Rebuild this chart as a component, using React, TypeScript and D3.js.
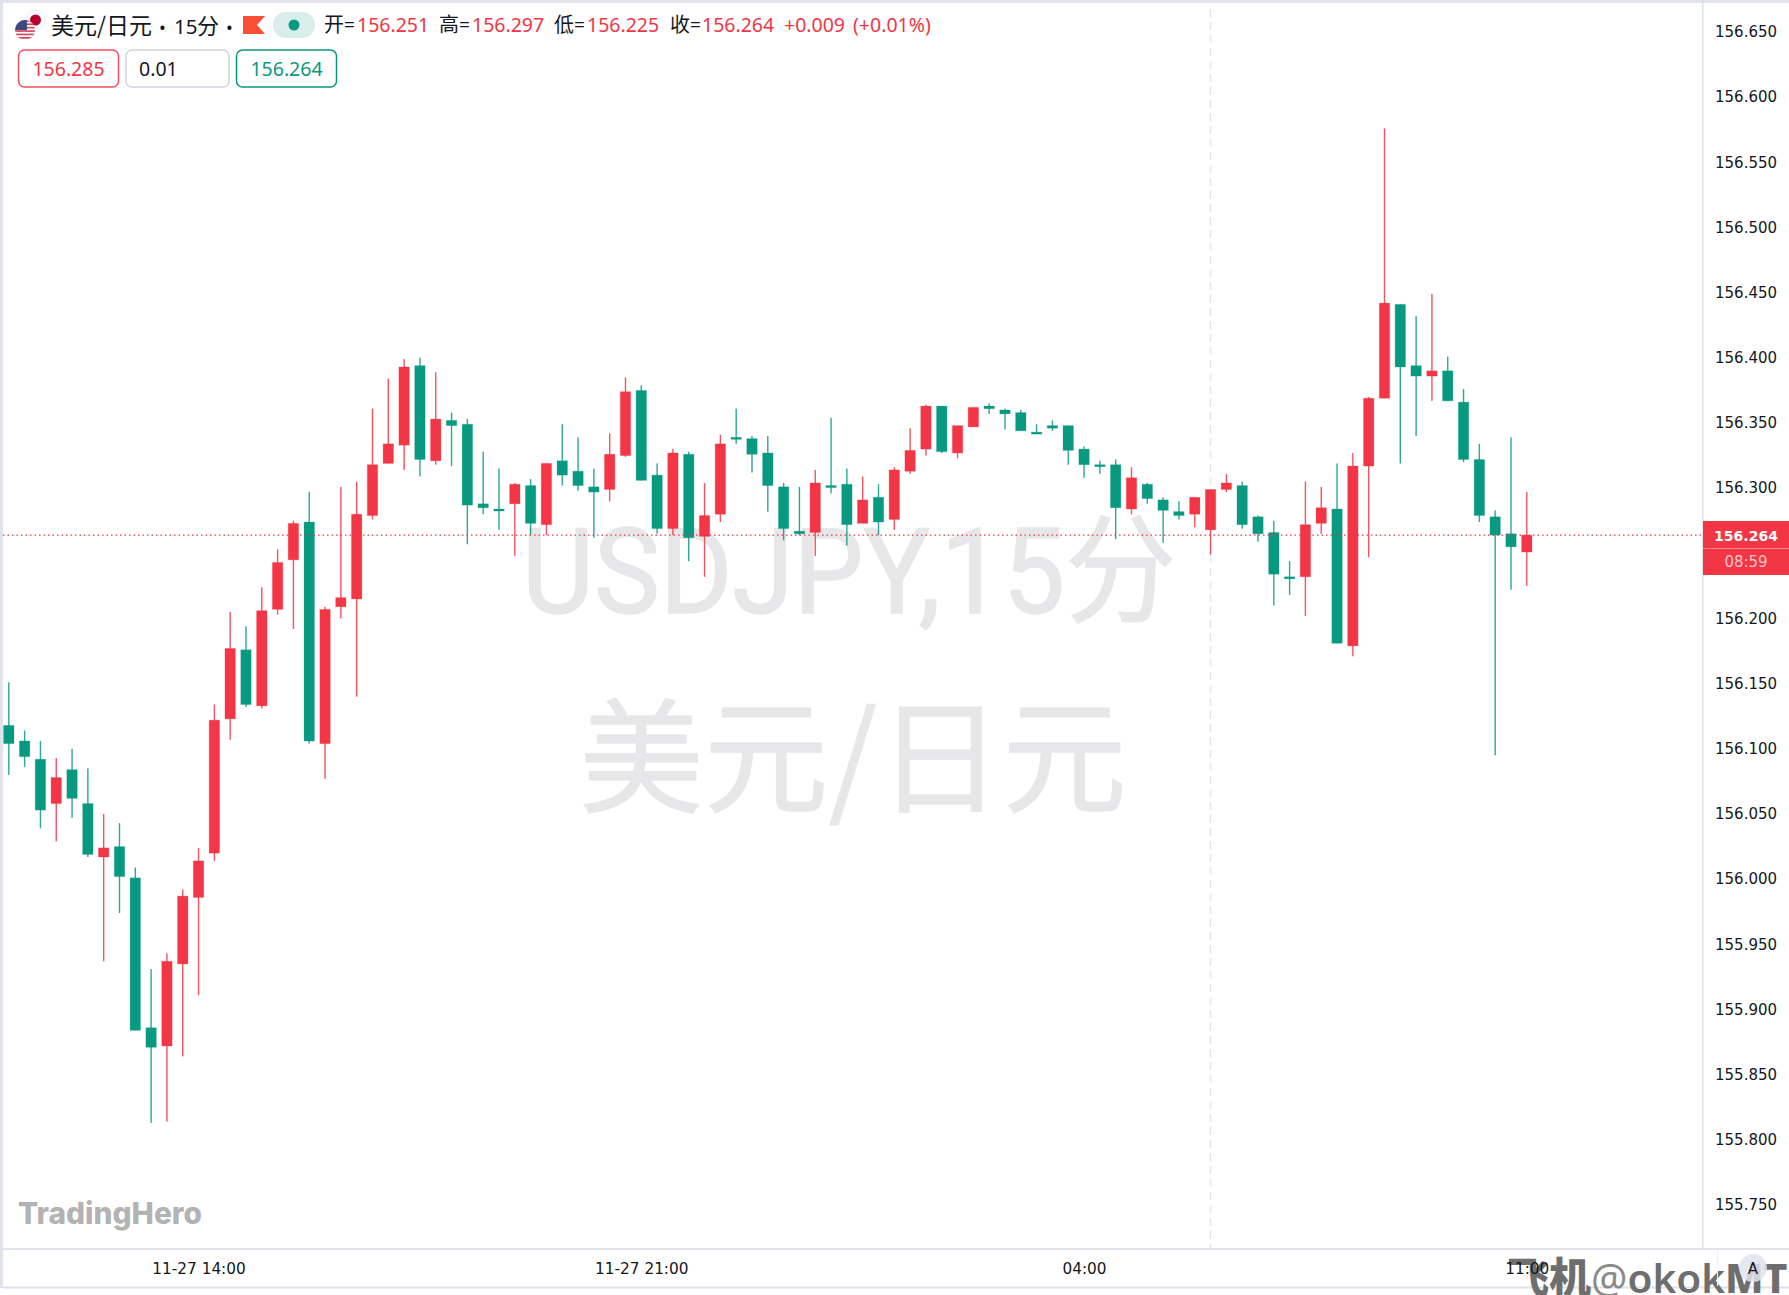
import React from "react";
import * as d3 from "d3";

const WIDTH = 1789;
const HEIGHT = 1295;

const UP = "#f23645";
const DOWN = "#089981";
const LINE = "#e0e3eb";
const AXIS_FONT = "'DejaVu Sans', sans-serif";
const TEXT_FONT = "'Noto Sans', 'Noto Sans CJK SC', sans-serif";
const CJK_FONT = "'Noto Sans CJK SC', sans-serif";

// USDJPY 15 min, 11-27 11:00 to 11-28 11:00
const opens = [
  156.118, 156.106, 156.092, 156.058, 156.084, 156.058, 156.017, 156.025, 156.001, 155.886,
  155.872, 155.935, 155.986, 156.02, 156.123, 156.176, 156.133, 156.207, 156.245, 156.274,
  156.104, 156.209, 156.215, 156.279, 156.319, 156.333, 156.394, 156.321, 156.352, 156.349,
  156.288, 156.284, 156.288, 156.302, 156.272, 156.321, 156.313, 156.301, 156.299, 156.325,
  156.375, 156.31, 156.269, 156.326, 156.263, 156.28, 156.339, 156.338, 156.327, 156.301,
  156.267, 156.266, 156.302, 156.303, 156.273, 156.293, 156.276, 156.313, 156.33, 156.363,
  156.327, 156.347, 156.363, 156.36, 156.358, 156.343, 156.348, 156.348, 156.33, 156.318,
  156.318, 156.284, 156.303, 156.291, 156.282, 156.28, 156.268, 156.299, 156.302, 156.278,
  156.266, 156.232, 156.232, 156.273, 156.284, 156.179, 156.317, 156.369, 156.441, 156.394,
  156.386, 156.39, 156.366, 156.322, 156.278, 156.265, 156.251,
];
const highs = [
  156.151, 156.114, 156.106, 156.093, 156.1, 156.085, 156.05, 156.043, 156.009, 155.931,
  155.943, 155.992, 156.024, 156.134, 156.205, 156.194, 156.224, 156.253, 156.275, 156.297,
  156.209, 156.301, 156.305, 156.361, 156.384, 156.399, 156.4, 156.389, 156.358, 156.353,
  156.328, 156.315, 156.304, 156.307, 156.319, 156.349, 156.339, 156.315, 156.342, 156.385,
  156.379, 156.319, 156.33, 156.328, 156.304, 156.341, 156.361, 156.34, 156.34, 156.304,
  156.301, 156.314, 156.354, 156.315, 156.309, 156.303, 156.316, 156.346, 156.364, 156.363,
  156.348, 156.362, 156.365, 156.361, 156.36, 156.349, 156.352, 156.348, 156.332, 156.321,
  156.322, 156.316, 156.304, 156.293, 156.29, 156.293, 156.299, 156.311, 156.305, 156.279,
  156.275, 156.244, 156.305, 156.301, 156.319, 156.327, 156.37, 156.576, 156.441, 156.432,
  156.449, 156.401, 156.376, 156.334, 156.283, 156.339, 156.297,
];
const lows = [
  156.08, 156.086, 156.039, 156.029, 156.047, 156.017, 155.937, 155.974, 155.884, 155.813,
  155.814, 155.864, 155.911, 156.014, 156.107, 156.132, 156.131, 156.203, 156.192, 156.104,
  156.077, 156.2, 156.14, 156.276, 156.319, 156.314, 156.309, 156.318, 156.317, 156.257,
  156.28, 156.268, 156.248, 156.264, 156.264, 156.302, 156.298, 156.262, 156.29, 156.324,
  156.306, 156.265, 156.264, 156.244, 156.232, 156.274, 156.334, 156.312, 156.282, 156.26,
  156.264, 156.248, 156.296, 156.256, 156.273, 156.264, 156.268, 156.311, 156.325, 156.327,
  156.323, 156.347, 156.357, 156.345, 156.344, 156.342, 156.344, 156.318, 156.308, 156.311,
  156.261, 156.28, 156.288, 156.258, 156.276, 156.27, 156.249, 156.297, 156.269, 156.259,
  156.21, 156.218, 156.202, 156.265, 156.181, 156.171, 156.247, 156.369, 156.319, 156.34,
  156.367, 156.367, 156.32, 156.274, 156.095, 156.222, 156.225,
];
const closes = [
  156.104, 156.094, 156.053, 156.078, 156.062, 156.019, 156.024, 156.002, 155.884, 155.871,
  155.937, 155.987, 156.014, 156.122, 156.177, 156.134, 156.206, 156.243, 156.273, 156.106,
  156.207, 156.216, 156.28, 156.318, 156.334, 156.393, 156.322, 156.353, 156.348, 156.287,
  156.285, 156.283, 156.303, 156.273, 156.319, 156.31, 156.302, 156.297, 156.326, 156.374,
  156.306, 156.269, 156.327, 156.262, 156.279, 156.334, 156.338, 156.326, 156.302, 156.269,
  156.265, 156.304, 156.301, 156.272, 156.291, 156.274, 156.314, 156.329, 156.363, 156.328,
  156.348, 156.362, 156.361, 156.357, 156.344, 156.342, 156.346, 156.329, 156.318, 156.317,
  156.285, 156.308, 156.292, 156.283, 156.279, 156.293, 156.299, 156.304, 156.272, 156.265,
  156.234, 156.231, 156.272, 156.285, 156.181, 156.317, 156.369, 156.442, 156.393, 156.386,
  156.39, 156.367, 156.322, 156.279, 156.264, 156.255, 156.264,
];

const priceTicks = [
  155.75, 155.8, 155.85, 155.9, 155.95, 156.0, 156.05, 156.1, 156.15, 156.2, 156.25, 156.3,
  156.35, 156.4, 156.45, 156.5, 156.55, 156.6, 156.65,
];
const timeTickIndex = [12, 40, 68, 96];
const timeTickLabels = ["11-27 14:00", "11-27 21:00", "04:00", "11:00"];
const sessionBreakIndex = 76;

const lastPrice = 156.264;
const legendItems = [
  { label: "开=", value: "156.251", labelX: 324, valueX: 357 },
  { label: "高=", value: "156.297", labelX: 439, valueX: 472 },
  { label: "低=", value: "156.225", labelX: 554, valueX: 587 },
  { label: "收=", value: "156.264", labelX: 670, valueX: 702 },
];

const App = () => {
  const svgRef = React.useRef<SVGSVGElement | null>(null);

  React.useEffect(() => {
    const svg = d3.select(svgRef.current);
    svg.selectAll("*").remove();

    const start = new Date(Date.UTC(2024, 10, 27, 11, 0));
    const timeAt = (i: number) => d3.utcMinute.offset(start, i * 15);

    const x = d3
      .scaleUtc()
      .domain([timeAt(0), timeAt(96)])
      .range([8.8, 1526.8]);
    const y = d3.scaleLinear().domain([155.75, 156.65]).range([1205, 32]);

    svg.append("rect").attr("width", WIDTH).attr("height", HEIGHT).attr("fill", "#fff");

    // outer frame
    svg.append("rect").attr("width", WIDTH).attr("height", 3).attr("fill", LINE);
    svg.append("rect").attr("width", 3).attr("height", 1288).attr("fill", LINE);
    svg.append("rect").attr("x", 3).attr("y", 1248).attr("width", WIDTH).attr("height", 2).attr("fill", LINE);
    svg.append("rect").attr("x", 3).attr("y", 1286.5).attr("width", WIDTH).attr("height", 2).attr("fill", LINE);
    svg.append("rect").attr("x", 1702).attr("y", 3).attr("width", 1.5).attr("height", 1245).attr("fill", LINE);

    // big watermark
    svg
      .append("text")
      .attr("x", 522)
      .attr("y", 613)
      .attr("font-family", "Roboto, 'Noto Sans CJK SC', sans-serif")
      .attr("font-size", 118)
      .attr("fill", "#e7e7e9")
      .attr("stroke", "#e7e7e9")
      .attr("stroke-width", 1.5)
      .attr("textLength", 654)
      .attr("lengthAdjust", "spacingAndGlyphs")
      .text("USDJPY,15分");
    svg
      .append("text")
      .attr("x", 579)
      .attr("y", 803)
      .attr("font-family", CJK_FONT)
      .attr("font-weight", 400)
      .attr("font-size", 124)
      .attr("fill", "#e7e7e9")
      .attr("stroke", "#e7e7e9")
      .attr("stroke-width", 1)
      .attr("textLength", 548)
      .attr("lengthAdjust", "spacingAndGlyphs")
      .text("美元/日元");

    // session break
    svg
      .append("line")
      .attr("x1", x(timeAt(sessionBreakIndex)))
      .attr("x2", x(timeAt(sessionBreakIndex)))
      .attr("y1", 9)
      .attr("y2", 1248)
      .attr("stroke", "#e3e4ee")
      .attr("stroke-width", 1.5)
      .attr("stroke-dasharray", "8 5");

    // candles
    const candles = d3.range(opens.length);
    const candle = svg
      .append("g")
      .selectAll("g")
      .data(candles)
      .join("g")
      .attr("fill", (i) => (closes[i] >= opens[i] ? UP : DOWN));
    candle
      .append("rect")
      .attr("x", (i) => x(timeAt(i)) - 0.7)
      .attr("width", 1.4)
      .attr("y", (i) => y(highs[i]))
      .attr("height", (i) => y(lows[i]) - y(highs[i]))
      .attr("opacity", 0.85);
    candle
      .append("rect")
      .attr("x", (i) => x(timeAt(i)) - 5.2)
      .attr("width", 10.4)
      .attr("y", (i) => y(Math.max(opens[i], closes[i])))
      .attr("height", (i) => Math.max(2, Math.abs(y(opens[i]) - y(closes[i]))))
      .attr("stroke", (i) => (closes[i] >= opens[i] ? UP : DOWN))
      .attr("stroke-opacity", 0.25)
      .attr("stroke-width", 1);

    // last price line
    svg
      .append("line")
      .attr("x1", 3)
      .attr("x2", 1702)
      .attr("y1", y(lastPrice))
      .attr("y2", y(lastPrice))
      .attr("stroke", UP)
      .attr("stroke-width", 1.4)
      .attr("stroke-dasharray", "1.5 3");

    // source watermark in the corner, the time axis text shows over it
    const mark = svg
      .append("text")
      .attr("x", 1507)
      .attr("y", 1293)
      .attr("font-size", 40.5)
      .attr("fill", "#6e6e6e");
    mark.append("tspan").attr("font-family", CJK_FONT).attr("font-weight", 900).attr("font-size", 42).text("飞机");
    mark.append("tspan").attr("font-family", "'Noto Sans', sans-serif").attr("font-weight", 400).attr("fill", "#8a8a8a").text("@");
    mark.append("tspan").attr("font-family", "'Noto Sans', sans-serif").attr("font-weight", 600).text("okok");
    mark.append("tspan").attr("font-family", "'Noto Sans', sans-serif").attr("font-weight", 800).text("MT");

    // price axis
    const yAxis = svg
      .append("g")
      .attr("transform", "translate(1703,0)")
      .call(
        d3
          .axisRight(y)
          .tickValues(priceTicks)
          .tickSize(0)
          .tickPadding(12)
          .tickFormat((d) => d3.format(".3f")(d as number))
      );
    yAxis.select(".domain").remove();
    yAxis.selectAll("text").attr("font-family", AXIS_FONT).attr("font-size", 15).attr("fill", "#131722");

    // last price tag
    svg.append("rect").attr("x", 1703).attr("y", 521).attr("width", 86).attr("height", 54).attr("fill", UP);
    svg.append("rect").attr("x", 1703).attr("y", 548).attr("width", 86).attr("height", 1).attr("fill", "#f78a94");
    svg
      .append("text")
      .attr("x", 1746)
      .attr("y", y(lastPrice) + 5.5)
      .attr("text-anchor", "middle")
      .attr("font-family", AXIS_FONT)
      .attr("font-weight", 700)
      .attr("font-size", 14)
      .attr("fill", "#fff")
      .text("156.264");
    svg
      .append("text")
      .attr("x", 1746)
      .attr("y", 567)
      .attr("text-anchor", "middle")
      .attr("font-family", AXIS_FONT)
      .attr("font-size", 15)
      .attr("fill", "#fbc5ca")
      .text("08:59");

    // time axis
    const xAxis = svg
      .append("g")
      .attr("transform", "translate(0,1263)")
      .call(
        d3
          .axisBottom(x)
          .tickValues(timeTickIndex.map(timeAt))
          .tickSize(0)
          .tickPadding(0)
          .tickFormat((_, i) => timeTickLabels[i])
      );
    xAxis.select(".domain").remove();
    xAxis.selectAll("text").attr("font-family", AXIS_FONT).attr("font-size", 15.3).attr("fill", "#131722");

    // auto scale button
    svg.append("rect").attr("x", 1717).attr("y", 1250).attr("width", 1).attr("height", 36).attr("fill", "#f0f1f5");
    svg.append("circle").attr("cx", 1753).attr("cy", 1268).attr("r", 14).attr("fill", LINE).attr("fill-opacity", 0.85);
    svg
      .append("text")
      .attr("x", 1753)
      .attr("y", 1274)
      .attr("text-anchor", "middle")
      .attr("font-family", AXIS_FONT)
      .attr("font-size", 15)
      .attr("fill", "#131722")
      .text("A");

    // legend: symbol icons
    const defs = svg.append("defs");
    defs.append("clipPath").attr("id", "usFlag").append("circle").attr("cx", 25).attr("cy", 30).attr("r", 10);
    svg.append("circle").attr("cx", 35.5).attr("cy", 20).attr("r", 9.5).attr("fill", "#fff").attr("stroke", "#eeeeee");
    svg.append("circle").attr("cx", 35.5).attr("cy", 20).attr("r", 5.5).attr("fill", "#bc002d");
    const flag = svg.append("g").attr("clip-path", "url(#usFlag)");
    flag.append("rect").attr("x", 15).attr("y", 20).attr("width", 20).attr("height", 20).attr("fill", "#fff");
    d3.range(6).forEach((s) => {
      flag
        .append("rect")
        .attr("x", 15)
        .attr("y", 20 + s * 3.4)
        .attr("width", 20)
        .attr("height", 1.7)
        .attr("fill", "#d0485a");
    });
    flag.append("rect").attr("x", 15).attr("y", 20).attr("width", 12).attr("height", 10).attr("fill", "#3c4a80");

    const legendText = (
      px: number,
      py: number,
      content: string,
      fill: string,
      size: number,
      family = TEXT_FONT
    ) =>
      svg
        .append("text")
        .attr("x", px)
        .attr("y", py)
        .attr("font-family", family)
        .attr("font-size", size)
        .attr("fill", fill)
        .text(content);

    legendText(51, 34, "美元/日元", "#131722", 23, CJK_FONT);
    legendText(159, 34, "•", "#131722", 18);
    legendText(174, 34, "15", "#131722", 20.5);
    legendText(197, 34, "分", "#131722", 22, CJK_FONT);
    legendText(226, 34, "•", "#131722", 18);

    const flagLine = d3.line();
    svg
      .append("path")
      .attr(
        "d",
        flagLine([
          [243, 16],
          [265, 16],
          [257, 25],
          [265, 34],
          [243, 34],
        ])
      )
      .attr("fill", "#f94d35");

    svg.append("rect").attr("x", 273).attr("y", 12).attr("width", 42).attr("height", 26).attr("rx", 13).attr("fill", "#d9eeea");
    svg.append("circle").attr("cx", 294).attr("cy", 25).attr("r", 5.5).attr("fill", DOWN);

    legendItems.forEach((item) => {
      legendText(item.labelX, 32, item.label.slice(0, 1), "#131722", 20, CJK_FONT);
      legendText(item.labelX + 20, 32, "=", "#131722", 19);
      legendText(item.valueX, 32, item.value, UP, 19.5);
    });
    legendText(784, 32, "+0.009", UP, 19.5);
    legendText(853, 32, "(+0.01%)", UP, 19.5);

    // bid / spread / ask boxes
    const boxes = [
      { x: 18.5, w: 100, stroke: "#f4505e", fill: UP, text: "156.285", tx: 68.5, anchor: "middle" },
      { x: 126, w: 103, stroke: "#d1d4dc", fill: "#131722", text: "0.01", tx: 139, anchor: "start" },
      { x: 236.5, w: 100, stroke: DOWN, fill: DOWN, text: "156.264", tx: 286.5, anchor: "middle" },
    ];
    boxes.forEach((b) => {
      svg
        .append("rect")
        .attr("x", b.x)
        .attr("y", 50)
        .attr("width", b.w)
        .attr("height", 37)
        .attr("rx", 6)
        .attr("fill", "#fff")
        .attr("stroke", b.stroke)
        .attr("stroke-width", 1.5);
      legendText(b.tx, 76, b.text, b.fill, 19.5).attr("text-anchor", b.anchor);
    });

    // TradingHero logo
    svg
      .append("text")
      .attr("x", 18)
      .attr("y", 1224)
      .attr("font-family", "Inter, sans-serif")
      .attr("font-weight", 800)
      .attr("font-size", 30)
      .attr("fill", "#b3b3b3")
      .attr("textLength", 184)
      .attr("lengthAdjust", "spacingAndGlyphs")
      .text("TradingHero");
  }, []);

  return (
    <svg
      ref={svgRef}
      width={WIDTH}
      height={HEIGHT}
      style={{ position: "absolute", left: 0, top: 0, display: "block" }}
    />
  );
};

export default App;
